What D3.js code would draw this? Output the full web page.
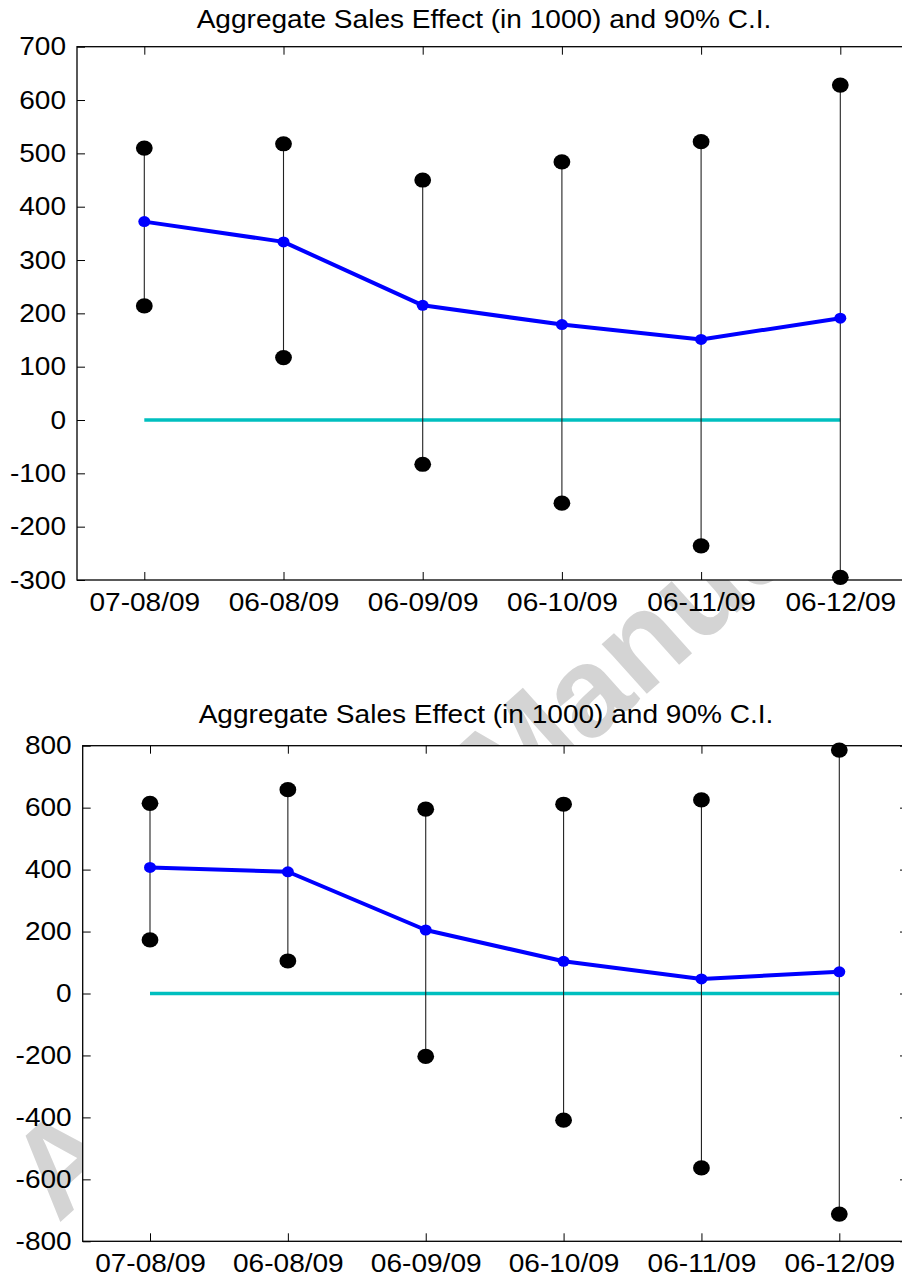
<!DOCTYPE html>
<html>
<head>
<meta charset="utf-8">
<script src="https://cdn.jsdelivr.net/npm/d3@7"></script>
<style>
  body { margin: 0; background: #fff; }
  svg text { font-family: "Liberation Sans", Arial, Helvetica, sans-serif; fill: #000; }
</style>
</head>
<body>
<div id="chart"></div>
<script>
// Data (values in 1000)
const periods = ["07-08/09", "06-08/09", "06-09/09", "06-10/09", "06-11/09", "06-12/09"];
const chartTitle = "Aggregate Sales Effect (in 1000) and 90% C.I.";

const topEffect = [372, 334, 215, 179, 151, 191];
const topUpper = [510, 518, 450, 484, 522, 628];
const topLower = [214, 117, -83, -156, -236, -295];
const topTicks = [-300, -200, -100, 0, 100, 200, 300, 400, 500, 600, 700];

const bottomEffect = [407, 393, 205, 104, 47, 70];
const bottomUpper = [614, 658, 595, 611, 625, 786];
const bottomLower = [173, 105, -203, -409, -563, -712];
const bottomTicks = [-800, -600, -400, -200, 0, 200, 400, 600, 800];

// Page size
const svgWidth = 902;
const svgHeight = 1278;
const stretch = 1.1; // the picture is a little wider than tall

const svg = d3.select("#chart")
    .append("svg")
    .attr("width", svgWidth)
    .attr("height", svgHeight);

svg.append("rect")
    .attr("width", svgWidth)
    .attr("height", svgHeight)
    .attr("fill", "#fff");

// Watermark sits behind the plot areas
svg.append("text")
    .attr("transform", "translate(58,1224) rotate(-42)")
    .attr("font-size", 127)
    .attr("font-weight", "bold")
    .style("fill", "#d4d4d4")
    .text("Accepted Manuscript");

const panels = [
    { box: { left: 77, right: 910, top: 46.7, bottom: 580 }, firstTick: 144.3, lastTick: 840.3,
      domain: [-300, 700], ticks: topTicks, effect: topEffect, upper: topUpper, lower: topLower,
      titleX: 484, titleY: 28.3 },
    { box: { left: 82.7, right: 908, top: 745.7, bottom: 1241.3 }, firstTick: 150, lastTick: 839.3,
      domain: [-800, 800], ticks: bottomTicks, effect: bottomEffect, upper: bottomUpper, lower: bottomLower,
      titleX: 486, titleY: 723 }
];

panels.forEach((p) => {
    const b = p.box;

    const x = d3.scalePoint()
        .domain(periods)
        .range([p.firstTick, p.lastTick]);

    const y = d3.scaleLinear()
        .domain(p.domain)
        .range([b.bottom, b.top]);

    // white axes background hides the watermark
    svg.append("rect")
        .attr("x", b.left)
        .attr("y", b.top)
        .attr("width", b.right - b.left)
        .attr("height", b.bottom - b.top)
        .attr("fill", "#fff")
        .attr("stroke", "#000")
        .attr("stroke-width", 1.3);

    // axes, ticks pointing inward on all four sides
    const left = svg.append("g")
        .attr("transform", `translate(${b.left},0)`)
        .call(d3.axisLeft(y).tickValues(p.ticks).tickFormat(d => String(d))
            .tickSize(-8).tickSizeOuter(0).tickPadding(11 / stretch));
    const bottom = svg.append("g")
        .attr("transform", `translate(0,${b.bottom})`)
        .call(d3.axisBottom(x).tickSize(-8).tickSizeOuter(0).tickPadding(13));
    svg.append("g")
        .attr("transform", `translate(0,${b.top})`)
        .call(d3.axisTop(x).tickSize(-8).tickSizeOuter(0).tickFormat(""));
    svg.append("g")
        .attr("transform", `translate(${b.right},0)`)
        .call(d3.axisRight(y).tickValues(p.ticks).tickSize(-8).tickSizeOuter(0).tickFormat(""));

    svg.selectAll(".domain").remove();
    svg.selectAll(".tick line").attr("stroke", "#000").attr("stroke-width", 1);

    [left, bottom].forEach((g) => {
        g.selectAll("text")
            .attr("font-size", "25.5px")
            .attr("font-family", null)
            .attr("transform", `scale(${stretch},1)`);
    });
    left.selectAll("text").attr("x", -11 / stretch);

    // zero reference line
    svg.append("line")
        .attr("x1", x(periods[0]))
        .attr("x2", x(periods[periods.length - 1]))
        .attr("y1", y(0))
        .attr("y2", y(0))
        .attr("stroke", "#00bfbf")
        .attr("stroke-width", 3.5);

    // confidence interval whiskers
    svg.selectAll(null)
        .data(periods)
        .enter()
        .append("line")
        .attr("x1", d => x(d))
        .attr("x2", d => x(d))
        .attr("y1", (d, i) => y(p.lower[i]))
        .attr("y2", (d, i) => y(p.upper[i]))
        .attr("stroke", "#222")
        .attr("stroke-width", 1.1);

    const ends = periods.map((d, i) => ({ key: d, v: p.lower[i] }))
        .concat(periods.map((d, i) => ({ key: d, v: p.upper[i] })));

    svg.selectAll(null)
        .data(ends)
        .enter()
        .append("ellipse")
        .attr("cx", d => x(d.key))
        .attr("cy", d => y(d.v))
        .attr("rx", 8.4)
        .attr("ry", 7.6)
        .attr("fill", "#000");

    // point estimates
    const line = d3.line()
        .x((d, i) => x(periods[i]))
        .y(d => y(d));

    svg.append("path")
        .datum(p.effect)
        .attr("d", line)
        .attr("fill", "none")
        .attr("stroke", "#0000ff")
        .attr("stroke-width", 4)
        .attr("stroke-linejoin", "round");

    svg.selectAll(null)
        .data(p.effect)
        .enter()
        .append("ellipse")
        .attr("cx", (d, i) => x(periods[i]))
        .attr("cy", d => y(d))
        .attr("rx", 6)
        .attr("ry", 5.5)
        .attr("fill", "#0000ff");

    // title
    svg.append("text")
        .attr("transform", `translate(${p.titleX},${p.titleY}) scale(${stretch},1)`)
        .attr("text-anchor", "middle")
        .attr("font-size", "25.5px")
        .text(chartTitle);
});
</script>
</body>
</html>
